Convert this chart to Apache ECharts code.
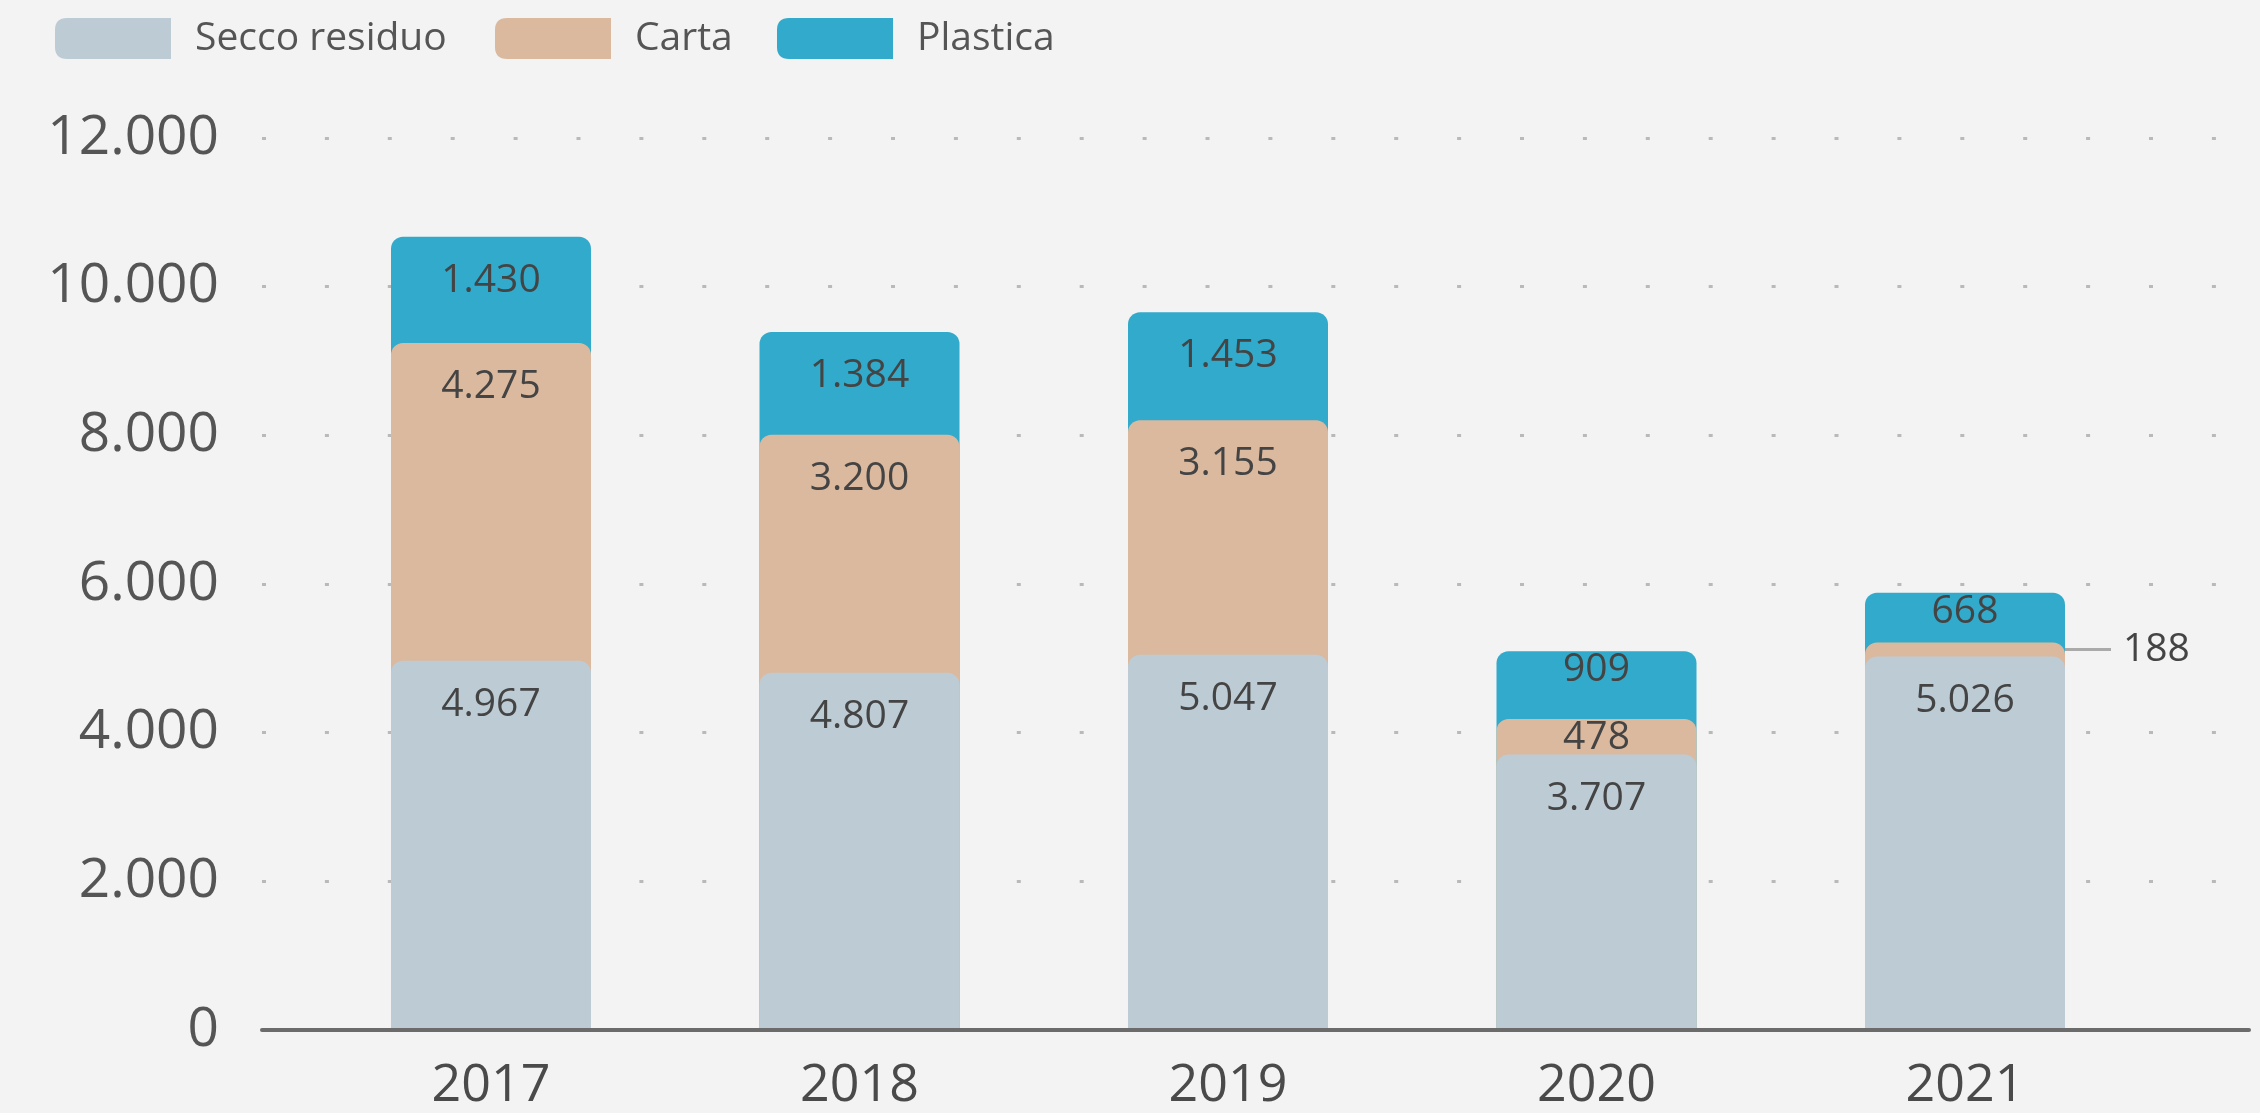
<!DOCTYPE html>
<html><head><meta charset="utf-8">
<script src="https://cdn.jsdelivr.net/npm/echarts@6/dist/echarts.min.js"></script>
<style>html,body{margin:0;padding:0;background:#f3f3f3;}#c{width:2260px;height:1113px;}</style>
</head><body><div id="c"></div>
<script>
const years = ['2017', '2018', '2019', '2020', '2021'];
const secco = [4967, 4807, 5047, 3707, 5026];
const carta = [4275, 3200, 3155, 478, 188];
const plastica = [1430, 1384, 1453, 909, 668];
const seriesNames = ['Secco residuo', 'Carta', 'Plastica'];
const yMin = 0, yMax = 12000, yStep = 2000;

const C_S = '#bdcbd4', C_C = '#dbb99e', C_P = '#31aacb';
const FONT = 'Open Sans';
const fmt = v => String(v).replace(/\B(?=(\d{3})+(?!\d))/g, '.');

// cumulative tops so each upper segment sits behind the lower one's rounded corners
const cumCarta = secco.map((v, i) => v + carta[i]);
const cumTotal = cumCarta.map((v, i) => v + plastica[i]);

const TOP = 138, BOTTOM = 1113 - 1030;
const BW = 200;

function labelFor(v) {
  if (v < 300) return { position: 'right', distance: 5, padding: [0, 0, 0, 12] };
  if (v < 1000) return { position: 'insideTop', distance: 1 };
  return {};
}
function labelSeries(name, arr) {
  return {
    name: name, type: 'bar', stack: 'lbl', xAxisIndex: 1, yAxisIndex: 1,
    barWidth: BW, barGap: '-100%', silent: true, z: 6,
    itemStyle: { color: 'rgba(0,0,0,0)' },
    emphasis: { disabled: true },
    label: { show: true, position: 'insideTop', distance: 26, formatter: p => fmt(p.value),
      fontFamily: FONT, fontSize: 39, lineHeight: 36, color: '#444' },
    labelLine: { show: true, lineStyle: { color: '#aaaaaa', width: 3 } },
    data: arr.map(v => ({ value: v, label: labelFor(v) }))
  };
}
function visSeries(name, arr, color) {
  return {
    name: name, type: 'bar', xAxisIndex: 1, yAxisIndex: 1,
    barWidth: BW, barGap: '-100%', z: 2,
    itemStyle: { color: color, borderRadius: [12, 12, 0, 0] },
    emphasis: { disabled: true },
    data: arr
  };
}
const legendCommon = {
  top: 18, padding: 0, itemWidth: 116, itemHeight: 41, selectedMode: false,
  icon: 'path://M12,0 H116 V41 H12 Q0,41 0,29 V12 Q0,0 12,0 Z',
  textStyle: { fontFamily: FONT, fontSize: 39, lineHeight: 41, color: '#555', padding: [0, 0, 0, 19] }
};

const chart = echarts.init(document.getElementById('c'), null, { renderer: 'canvas' });
chart.setOption({
  backgroundColor: '#f3f3f3',
  animation: false,
  legend: [
    Object.assign({ data: [seriesNames[0]], left: 55 }, legendCommon),
    Object.assign({ data: [seriesNames[1]], left: 495 }, legendCommon),
    Object.assign({ data: [seriesNames[2]], left: 777 }, legendCommon)
  ],
  grid: [
    { left: 262, right: 11, top: TOP, bottom: BOTTOM },
    { left: 306.75, right: 110.75, top: TOP, bottom: BOTTOM }
  ],
  xAxis: [
    { gridIndex: 0, type: 'value', min: 0, max: 1, z: 10,
      axisLine: { show: true, lineStyle: { color: '#6b6b6b', width: 4 } },
      axisTick: { show: false }, axisLabel: { show: false }, splitLine: { show: false } },
    { gridIndex: 1, type: 'category', data: years,
      axisLine: { show: false }, axisTick: { show: false },
      axisLabel: { fontFamily: FONT, fontSize: 52, lineHeight: 52, color: '#4a4a4a', margin: 30 } }
  ],
  yAxis: [
    { gridIndex: 0, type: 'value', min: yMin, max: yMax, interval: yStep,
      axisLine: { show: false }, axisTick: { show: false },
      axisLabel: { fontFamily: FONT, fontSize: 55, color: '#555', margin: 43, formatter: v => fmt(v) },
      splitLine: { show: true, lineStyle: { type: [4, 58.9], width: 3, color: '#b9b9b9' } } },
    { gridIndex: 1, type: 'value', min: yMin, max: yMax, interval: yStep, show: false }
  ],
  labelLayout: function (p) {
    if (p.seriesIndex === 4 && p.dataIndex === 4) {
      return { dx: 41 };
    }
  },
  series: [
    visSeries(seriesNames[2], cumTotal, C_P),
    visSeries(seriesNames[1], cumCarta, C_C),
    visSeries(seriesNames[0], secco, C_S),
    labelSeries('l-secco', secco),
    labelSeries('l-carta', carta),
    labelSeries('l-plastica', plastica)
  ]
});
</script></body></html>
